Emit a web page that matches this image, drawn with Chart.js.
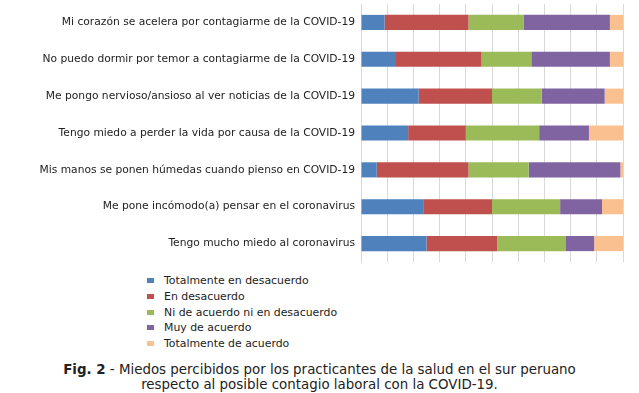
<!DOCTYPE html>
<html>
<head>
<meta charset="utf-8">
<script src="https://cdn.jsdelivr.net/npm/chart.js@4.4.1/dist/chart.umd.min.js"></script>
<style>
  body { margin: 0; background: #fff; font-family: "DejaVu Sans", Verdana, sans-serif; }
  #wrap { position: relative; width: 639px; height: 393px; }
  #chartBox { position: absolute; left: 0; top: 0; width: 639px; height: 265px; }
  #legend { position: absolute; left: 147px; top: 273px; font-size: 10.9px; color: #222; }
  #legend div { height: 15.8px; line-height: 15.8px; white-space: nowrap; }
  #legend span.box { display: inline-block; width: 7px; height: 5px; margin-right: 10px; vertical-align: 1px; }
  #caption { position: absolute; left: 0; top: 362px; width: 639px; text-align: center; font-size: 13.4px; line-height: 15px; color: #222; }
</style>
</head>
<body>
<div id="wrap">
  <div id="chartBox"><canvas id="fears"></canvas></div>
  <div id="legend"></div>
  <div id="caption"><b>Fig. 2</b> - Miedos percibidos por los practicantes de la salud en el sur peruano<br>respecto al posible contagio laboral con la COVID-19.</div>
</div>
<script>
// categories (top to bottom)
const categories = [
  'Mi corazón se acelera por contagiarme de la COVID-19',
  'No puedo dormir por temor a contagiarme de la COVID-19',
  'Me pongo nervioso/ansioso al ver noticias de la COVID-19',
  'Tengo miedo a perder la vida por causa de la COVID-19',
  'Mis manos se ponen húmedas cuando pienso en COVID-19',
  'Me pone incómodo(a) pensar en el coronavirus',
  'Tengo mucho miedo al coronavirus'
];

const seriesNames = [
  'Totalmente en desacuerdo',
  'En desacuerdo',
  'Ni de acuerdo ni en desacuerdo',
  'Muy de acuerdo',
  'Totalmente de acuerdo'
];

// percentages
const totalDesacuerdo = [9, 13, 22, 18, 6, 24, 25];
const enDesacuerdo    = [32, 33, 28, 22, 35, 26, 27];
const niNi            = [21, 19, 19, 28, 23, 26, 26];
const muyAcuerdo      = [33, 30, 24, 19, 35, 16, 11];
const totalAcuerdo    = [5, 5, 7, 13, 1, 8, 11];

const colors = ['#4F81BD', '#C0504D', '#9BBB59', '#8064A2', '#FAC090'];
const values = [totalDesacuerdo, enDesacuerdo, niNi, muyAcuerdo, totalAcuerdo];

const datasets = values.map((v, i) => ({
  label: seriesNames[i],
  data: v,
  backgroundColor: colors[i],
  borderWidth: 0,
  barPercentage: 0.41,
  categoryPercentage: 1.0
}));

const chart = new Chart(document.getElementById('fears'), {
  type: 'bar',
  data: { labels: categories, datasets: datasets },
  options: {
    indexAxis: 'y',
    responsive: true,
    maintainAspectRatio: false,
    animation: false,
    layout: { padding: { top: 4, right: 16, bottom: 3, left: 0 } },
    plugins: {
      legend: { display: false },
      tooltip: { enabled: false }
    },
    scales: {
      x: {
        stacked: true,
        min: 0,
        max: 100,
        ticks: { display: false, stepSize: 10 },
        grid: { color: '#d9d9d9', drawTicks: false },
        border: { display: false },
        afterFit: (s) => { s.height = 0; s.paddingLeft = 0; s.paddingRight = 0; }
      },
      y: {
        stacked: true,
        grid: { display: false, drawTicks: false },
        border: { color: '#d9d9d9' },
        // keep the axis line where the original has it
        afterFit: (s) => { s.width = 361; s.paddingTop = 0; s.paddingBottom = 0; },
        ticks: {
          color: '#222',
          padding: 6,
          font: { family: '"DejaVu Sans", Verdana, sans-serif', size: 10.7 }
        }
      }
    }
  }
});

// legend as a vertical list under the chart
const legendEl = document.getElementById('legend');
chart.data.datasets.forEach(ds => {
  const row = document.createElement('div');
  const box = document.createElement('span');
  box.className = 'box';
  box.style.background = ds.backgroundColor;
  row.appendChild(box);
  row.appendChild(document.createTextNode(ds.label));
  legendEl.appendChild(row);
});
</script>
</body>
</html>
